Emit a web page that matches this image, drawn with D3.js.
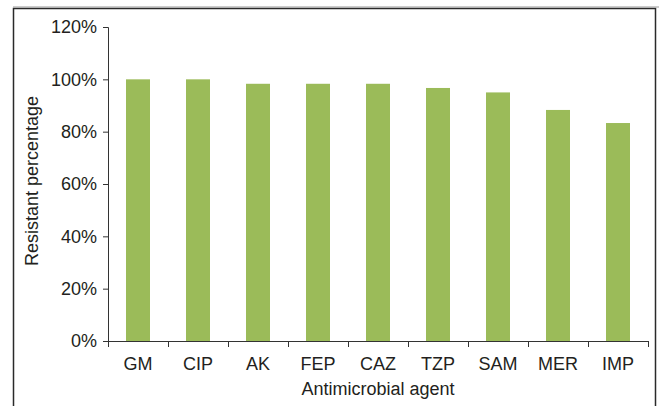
<!DOCTYPE html>
<html><head><meta charset="utf-8">
<script src="https://cdn.jsdelivr.net/npm/d3@7"></script>
<style>
html,body{margin:0;padding:0;background:#fff;}
svg{display:block;}
text{font-family:"Liberation Sans",Arial,Helvetica,sans-serif;fill:#231f20;}
</style></head><body>
<svg id="chart" width="659" height="406"></svg>
<script>
const categories = ["GM","CIP","AK","FEP","CAZ","TZP","SAM","MER","IMP"];
const resistant = [100, 100, 98.3, 98.3, 98.3, 96.7, 95.0, 88.3, 83.3];
const yTicks = [0, 20, 40, 60, 80, 100, 120];
const xTitle = "Antimicrobial agent";
const yTitle = "Resistant percentage";

const svg = d3.select("#chart");
const W = 659, H = 406;
const m = {left:108, right:11, top:27, bottom:65};
const x = d3.scaleBand().domain(categories).range([m.left, 648]).paddingInner(0.6).paddingOuter(0.3);
const y = d3.scaleLinear().domain([0,120]).range([341, 27]);
const FS = 18;

// frame
svg.append("path")
  .attr("d", `M13.5,${H} L13.5,8.5 L655.5,8.5 L655.5,${H}`)
  .attr("fill","none").attr("stroke","#2a2a2a").attr("stroke-width",1.5);
svg.append("line").attr("x1",13).attr("x2",W).attr("y1",7).attr("y2",7)
  .attr("stroke","#999").attr("stroke-width",1);

// bars
svg.append("g").selectAll("rect").data(categories).join("rect")
  .attr("x", d => x(d))
  .attr("width", x.bandwidth())
  .attr("y", (d,i) => y(resistant[i]))
  .attr("height", (d,i) => y(0) - y(resistant[i]))
  .attr("fill", "#9bbb59");

// y axis
const yAxis = svg.append("g").attr("transform", `translate(${m.left},0)`)
  .call(d3.axisLeft(y).tickValues(yTicks).tickFormat(d => d + "%").tickSize(5).tickPadding(6));
yAxis.attr("font-size", FS).attr("font-family", null);
yAxis.selectAll("text").attr("font-size", FS).attr("fill","#231f20");
yAxis.selectAll("line,path").attr("stroke","#333");

// x axis with ticks at band boundaries
const xb = d3.scaleLinear().domain([0, categories.length]).range([m.left, 648]);
const xAxis = svg.append("g").attr("transform", `translate(0,${y(0)})`);
xAxis.append("path").attr("d", `M${m.left},0.5 H648`).attr("stroke","#333").attr("fill","none");
xAxis.selectAll("line").data(d3.range(categories.length + 1)).join("line")
  .attr("x1", d => Math.round(xb(d)) + 0.5).attr("x2", d => Math.round(xb(d)) + 0.5)
  .attr("y1", 0).attr("y2", 6).attr("stroke","#333");
xAxis.selectAll("text").data(categories).join("text")
  .attr("x", d => x(d) + x.bandwidth()/2)
  .attr("y", 29)
  .attr("text-anchor","middle")
  .attr("font-size", FS)
  .text(d => d);

// titles
svg.append("text").attr("x", (m.left + 648)/2).attr("y", 395)
  .attr("text-anchor","middle").attr("font-size",FS).text(xTitle);
svg.append("text").attr("transform", `translate(38,181) rotate(-90)`)
  .attr("text-anchor","middle").attr("font-size",FS).text(yTitle);
</script>
</body></html>
